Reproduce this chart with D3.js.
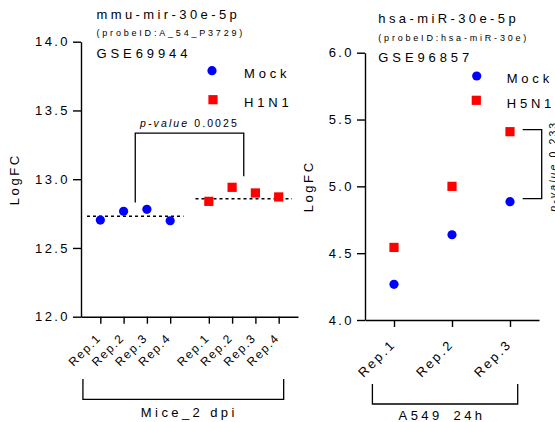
<!DOCTYPE html>
<html><head><meta charset="utf-8">
<script src="https://cdn.jsdelivr.net/npm/d3@7"></script>
<style>
body{margin:0;background:#fff;}
svg{font-family:"Liberation Sans",Arial,sans-serif;}
</style></head>
<body><svg id="c" width="555" height="422"></svg>
<script>
// ---------- data ----------
const leftReps = ["Rep.1","Rep.2","Rep.3","Rep.4"];
const leftGroups = ["Mock","H1N1"];
const leftMock = [12.703, 12.767, 12.781, 12.698];
const leftH1N1 = [12.839, 12.941, 12.900, 12.871];
const leftMeans = [12.730, 12.858];
const leftYTicks = [12.0, 12.5, 13.0, 13.5, 14.0];
const leftBracket = [12.830, 13.335, 13.022]; // left foot, top, right foot
const leftPText = ["p-value", " 0.0025"];
const leftTitles = ["mmu-mir-30e-5p", "(probeID:A_54_P3729)", "GSE69944"];
const leftGroupLabel = "Mice_2 dpi";

const rightReps = ["Rep.1","Rep.2","Rep.3"];
const rightGroups = ["Mock","H5N1"];
const rightMock = [4.267, 4.638, 4.885];
const rightH5N1 = [4.543, 5.000, 5.409];
const rightYTicks = [4.0, 4.5, 5.0, 5.5, 6.0];
const rightPText = ["p-value", " 0.233"];
const rightTitles = ["hsa-miR-30e-5p", "(probeID:hsa-miR-30e)", "GSE96857"];
const rightGroupLabel = "A549 24h";

const BLUE = "#0000ff", RED = "#ff0000";
const svg = d3.select("#c");

function styleAxis(g, fs, ls){
  g.selectAll("path,line").attr("stroke","#000").attr("stroke-width",1.4);
  g.selectAll("text").attr("font-size",fs).attr("fill","#000")
   .attr("font-family","Liberation Sans, Arial, sans-serif").style("letter-spacing",ls+"px");
}
function circle(g,x,y){ g.append("circle").attr("cx",x).attr("cy",y).attr("r",4.6).attr("fill",BLUE); }
function square(g,x,y){ g.append("rect").attr("x",x-4.6).attr("y",y-4.6).attr("width",9.2).attr("height",9.2).attr("fill",RED); }
function txt(x,y,s,fs,ls,anchor){
  return svg.append("text").attr("x",x).attr("y",y).attr("font-size",fs)
    .style("letter-spacing",ls+"px").attr("text-anchor",anchor||"start").text(s);
}

// ---------- left chart ----------
{
  const X0 = 81, X1 = 298, Y0 = 316.7, Y1 = 41.7;
  const y = d3.scaleLinear().domain([12,14]).range([Y0,Y1]);
  const gx = d3.scaleBand().domain(leftGroups).range([X0,X1]).paddingInner(0).paddingOuter(0);
  const ix = d3.scalePoint().domain(leftReps).range([0,gx.bandwidth()]).padding(0.83);
  const px = (g,r)=>gx(g)+ix(r);

  const ya = svg.append("g").attr("transform",`translate(${X0},0)`)
    .call(d3.axisLeft(y).tickValues(leftYTicks).tickFormat(d3.format(".1f")).tickSize(8).tickSizeOuter(0).tickPadding(3));
  styleAxis(ya,13,2.4);

  leftGroups.forEach(gname=>{
    const a = svg.append("g").attr("transform",`translate(${gx(gname)},${Y0})`)
      .call(d3.axisBottom(ix).tickSize(7).tickSizeOuter(0));
    styleAxis(a,12,1.6);
    a.selectAll(".tick text").attr("y",0).attr("dy",0).attr("text-anchor","end")
      .attr("transform","translate(1,22) rotate(-45)");
  });

  // mean lines
  leftGroups.forEach((gname,i)=>{
    svg.append("line").attr("x1",gx(gname)+6).attr("x2",gx(gname)+gx.bandwidth()-6)
      .attr("y1",y(leftMeans[i])).attr("y2",y(leftMeans[i]))
      .attr("stroke","#000").attr("stroke-width",1.5).attr("stroke-dasharray","3,3");
  });
  const pts = svg.append("g");
  leftReps.forEach((r,i)=>{ circle(pts,px("Mock",r),y(leftMock[i])); });
  leftReps.forEach((r,i)=>{ square(pts,px("H1N1",r),y(leftH1N1[i])); });

  // bracket
  const bx0 = gx("Mock")+gx.bandwidth()/2, bx1 = gx("H1N1")+gx.bandwidth()/2;
  svg.append("path").attr("fill","none").attr("stroke","#000").attr("stroke-width",1.3)
    .attr("d",`M${bx0},${y(leftBracket[0])}V${y(leftBracket[1])}H${bx1}V${y(leftBracket[2])}`);
  const pt = txt((bx0+bx1)/2, y(leftBracket[1])-6.5, "", 10.5, 2.1, "middle");
  pt.append("tspan").attr("font-style","italic").text(leftPText[0]);
  pt.append("tspan").text(leftPText[1]);

  // titles
  txt(96.5,18.5,leftTitles[0],13,3.4);
  txt(96.5,35.5,leftTitles[1],9,2.8);
  txt(96.5,57.5,leftTitles[2],13,3.9);
  // legend
  circle(svg,212,70.7); txt(244,77.5,leftGroups[0],13,3.8);
  square(svg,213,99.7); txt(244,106.5,leftGroups[1],13,3.8);

  // y label
  svg.append("text").attr("transform",`translate(18.5,${(Y0+Y1)/2}) rotate(-90)`)
    .attr("text-anchor","middle").attr("font-size",13).style("letter-spacing","2.6px").text("LogFC");

  // group bracket
  const gb0 = px("Mock",leftReps[0])-17.4, gb1 = px("H1N1",leftReps[3])+5;
  svg.append("path").attr("fill","none").attr("stroke","#000").attr("stroke-width",1.3)
    .attr("d",`M${gb0},379V399.3H${gb1}V379`);
  txt((gb0+gb1)/2+6, 416.8, leftGroupLabel, 13, 3.4, "middle");
}

// ---------- right chart ----------
{
  const X0 = 365, X1 = 539, Y0 = 320, Y1 = 52.7;
  const y = d3.scaleLinear().domain([4,6]).range([Y0,Y1]);
  const x = d3.scalePoint().domain(rightReps).range([X0,X1]).padding(0.5);

  const ya = svg.append("g").attr("transform",`translate(${X0},0)`)
    .call(d3.axisLeft(y).tickValues(rightYTicks).tickFormat(d3.format(".1f")).tickSize(8).tickSizeOuter(0).tickPadding(3));
  styleAxis(ya,13,2.4);
  const xa = svg.append("g").attr("transform",`translate(0,${Y0})`)
    .call(d3.axisBottom(x).tickSize(7).tickSizeOuter(0));
  styleAxis(xa,13,2.4);
  xa.selectAll(".tick text").attr("y",0).attr("dy",0).attr("text-anchor","end")
    .attr("transform","translate(2,25) rotate(-45)");

  const pts = svg.append("g");
  rightReps.forEach((r,i)=>{ circle(pts,x(r),y(rightMock[i])); });
  rightReps.forEach((r,i)=>{ square(pts,x(r),y(rightH5N1[i])); });

  // p-value bracket
  const last = rightReps[rightReps.length-1];
  const ty = y(rightH5N1[2])-2, by = y(rightMock[2])-3;
  const bxA = x(last)+12.7, bxB = x(last)+31.7;
  svg.append("path").attr("fill","none").attr("stroke","#000").attr("stroke-width",1.3)
    .attr("d",`M${bxA},${ty}H${bxB}V${by}H${bxA}`);
  const pt = svg.append("text").attr("transform",`translate(557,${(ty+by)/2+2}) rotate(-90)`)
    .attr("text-anchor","middle").attr("font-size",10.5).style("letter-spacing","2.1px");
  pt.append("tspan").attr("font-style","italic").text(rightPText[0]);
  pt.append("tspan").text(rightPText[1]);

  txt(378.3,22.5,rightTitles[0],13,3.4);
  txt(378.3,40.5,rightTitles[1],9,2.8);
  txt(378.3,61.5,rightTitles[2],13,3.9);
  circle(svg,476.7,76); txt(506.7,83,rightGroups[0],13,3.8);
  square(svg,476.3,100.3); txt(506.7,107.5,rightGroups[1],13,3.8);

  svg.append("text").attr("transform",`translate(313,${(Y0+Y1)/2}) rotate(-90)`)
    .attr("text-anchor","middle").attr("font-size",13).style("letter-spacing","2.6px").text("LogFC");

  const gb0 = x(rightReps[0])-21.6, gb1 = x(last)+7.7;
  svg.append("path").attr("fill","none").attr("stroke","#000").attr("stroke-width",1.3)
    .attr("d",`M${gb0},384V404H${gb1}V384`);
  const gl = rightGroupLabel.split(" ");
  const gt = txt((gb0+gb1)/2-3, 420.3, "", 13, 3.4, "middle");
  gt.append("tspan").text(gl[0]);
  gt.append("tspan").attr("dx",4).text(" " + gl[1]);
}
</script></body></html>
